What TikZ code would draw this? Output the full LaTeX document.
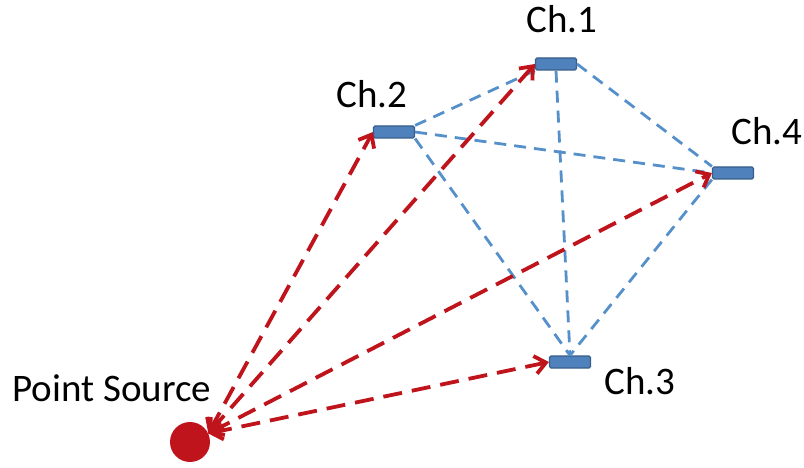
\documentclass[tikz,border=0pt]{standalone}
\usepackage{fontspec}
\setmainfont{Carlito}
\usetikzlibrary{arrows.meta}

\definecolor{chfill}{HTML}{4F81BD}
\definecolor{chdraw}{HTML}{385D8A}
\definecolor{srcred}{HTML}{C0141C}
\definecolor{linkblue}{HTML}{5690CA}

\tikzset{
  chan/.style={draw=chdraw,fill=chfill,line width=1.2pt,rounded corners=1.5pt,minimum width=41pt,minimum height=12pt,inner sep=0pt},
  lbl/.style={font=\fontsize{39}{42}\selectfont,inner sep=0pt},
  ray/.style={srcred,line width=3.8pt,dash pattern=on 19pt off 10pt,
    {Straight Barb[length=11pt,width=18pt]}-{Straight Barb[length=11pt,width=18pt]}},
  link/.style={linkblue,line width=2.8pt,dash pattern=on 12pt off 8pt}
}

\begin{document}
\begin{tikzpicture}[x=1pt,y=-1pt]
  \useasboundingbox (0,0) rectangle (804,468);
  % channels
  \node[chan] (ch1) at (556,64) {};
  \node[chan] (ch2) at (394,132) {};
  \node[chan] (ch3) at (570,362) {};
  \node[chan] (ch4) at (733,173) {};
  \node[circle,fill=srcred,minimum size=40pt,inner sep=0pt] (src) at (190,442) {};
  % labels
  \node[lbl] (l1) at (562,19) {Ch.1};
  \node[lbl] (l2) at (372,94) {Ch.2};
  \node[lbl] (l3) at (640,381) {Ch.3};
  \node[lbl] (l4) at (767,131) {Ch.4};
  \node[lbl] (ls) at (112,388) {Point Source};
  % links between channels
  \draw[link] (ch2.north east) -- (ch1.south west);
  \draw[link] (ch2.east) -- (ch4.west);
  \draw[link] (ch2.south east) -- (ch3.north);
  \draw[link] (ch1.south) -- (ch3.north);
  \draw[link] (ch1.east) -- (ch4.north west);
  \draw[link] (ch4.south west) -- (ch3.north);
  % rays from the source
  \draw[ray] (src.25) -- (ch2.west);
  \draw[ray] (src.25) -- (ch1.west);
  \draw[ray] (src.25) -- (ch4.west);
  \draw[ray] (src.25) -- (ch3.west);
\end{tikzpicture}
\end{document}
